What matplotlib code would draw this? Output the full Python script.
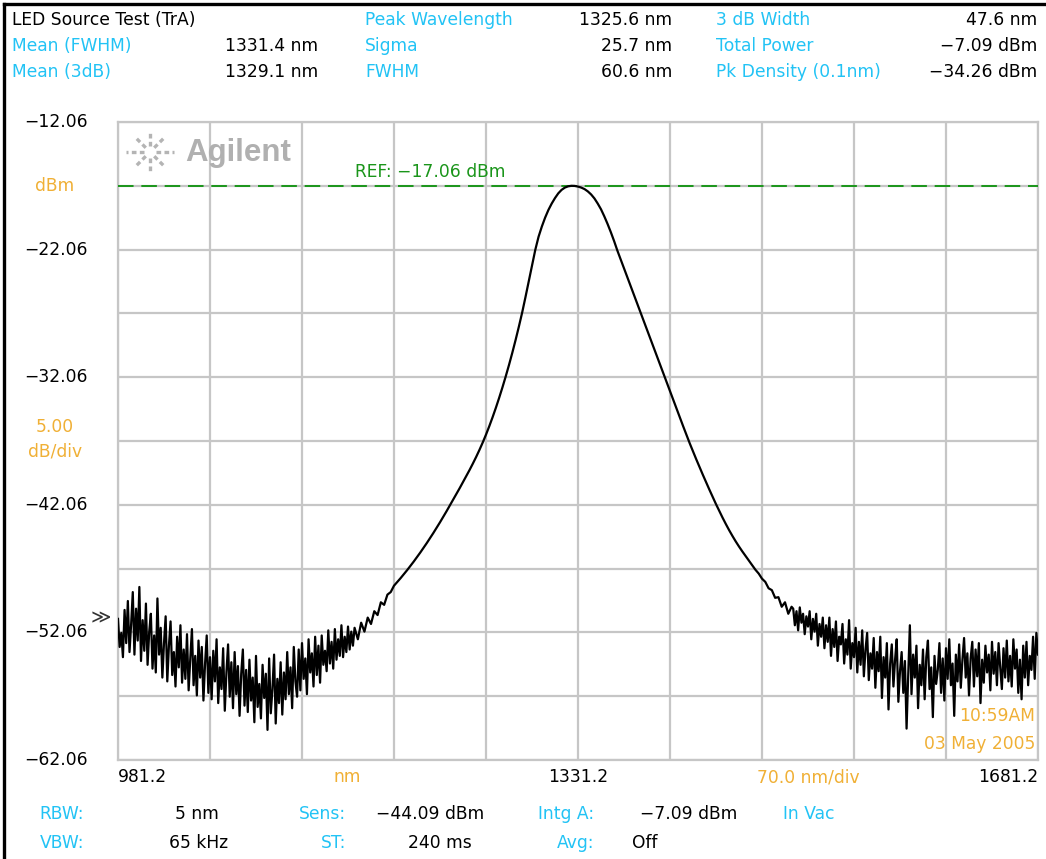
import numpy as np
import matplotlib
matplotlib.use("Agg")
import matplotlib.pyplot as plt
from matplotlib.transforms import blended_transform_factory
from matplotlib.lines import Line2D

W, H = 1046, 859
plt.rcParams['font.family'] = ['DejaVu Sans']
FS = 12.3

CYAN = '#22c3f5'
ORANGE = '#f0b036'
GREEN = '#1a951a'
GRID = '#c6c6c6'

# sweep settings
start_nm, stop_nm = 981.2, 1681.2
ref_dbm = -17.06
top_dbm, bottom_dbm = -12.06, -62.06

# trace
# left noise floor, 1.25 nm per point (981.2 .. 1161.2)
left_floor_dbm = [
    -51.0, -53.2, -52.1, -54.0, -50.3, -52.9, -49.6, -53.6, -51.4, -48.9,
    -53.8, -50.2, -52.7, -48.5, -54.3, -51.1, -53.5, -49.8, -54.6, -52.0,
    -50.6, -54.9, -52.3, -55.2, -49.4, -53.8, -51.7, -55.6, -52.9, -50.8,
    -55.9, -53.1, -51.2, -55.4, -53.6, -56.3, -52.4, -54.8, -51.5, -56.0,
    -53.4, -55.7, -52.2, -56.6, -54.1, -51.8, -56.2, -53.9, -57.0, -52.7,
    -55.6, -53.2, -57.4, -54.5, -52.3, -56.8, -54.0, -57.3, -53.5, -55.9,
    -52.6, -57.6, -54.8, -56.5, -53.3, -58.2, -55.2, -53.0, -57.1, -54.4,
    -58.0, -53.6, -56.9, -54.7, -58.6, -55.3, -53.4, -57.8, -55.0, -58.3,
    -54.2, -57.4, -55.6, -59.1, -53.9, -57.9, -56.1, -58.8, -54.6, -57.2,
    -55.3, -59.7, -54.1, -58.4, -56.5, -53.8, -59.2, -55.7, -57.6, -54.4,
    -58.5, -55.2, -57.3, -53.6, -56.9, -54.8, -58.0, -53.2, -55.9, -57.1,
    -53.4, -56.6, -52.9, -55.7, -54.1, -56.9, -52.6, -55.2, -53.7, -56.3,
    -52.4, -55.4, -53.1, -56.0, -52.3, -54.6, -53.5, -55.1, -51.9, -54.5,
    -52.8, -54.9, -51.8, -54.2, -52.6, -53.9, -51.5, -54.0, -52.4, -53.6,
    -51.6, -53.4, -52.0, -53.1, -51.7,
]
# LED spectrum, 2.5 nm per point (1163.7 .. 1493.7)
spectrum_dbm = [
    -52.6, -51.3, -52.0, -50.9, -51.4, -50.4, -50.7,
    -49.7, -49.9, -49.1, -48.9, -48.40, -48.11, -47.81, -47.50, -47.18, -46.85,
    -46.51, -46.16, -45.80, -45.43, -45.05, -44.66, -44.26, -43.85, -43.43, -43.00,
    -42.56, -42.11, -41.66, -41.21, -40.75, -40.28, -39.81, -39.33, -38.83, -38.31,
    -37.76, -37.18, -36.56, -35.90, -35.20, -34.46, -33.68, -32.86, -32.00, -31.10,
    -30.15, -29.15, -28.10, -27.00, -25.80, -24.55, -23.30, -22.08, -21.05, -20.25,
    -19.55, -18.95, -18.45, -18.02, -17.65, -17.38, -17.20, -17.10, -17.06, -17.07,
    -17.12, -17.20, -17.32, -17.50, -17.74, -18.05, -18.45, -18.90, -19.45, -20.05,
    -20.70, -21.40, -22.15, -22.84, -23.53, -24.21, -24.90, -25.59, -26.27, -26.96,
    -27.65, -28.34, -29.02, -29.71, -30.40, -31.09, -31.77, -32.46, -33.15, -33.84,
    -34.52, -35.21, -35.90, -36.58, -37.24, -37.88, -38.50, -39.11, -39.71, -40.30,
    -40.88, -41.45, -42.01, -42.55, -43.07, -43.57, -44.05, -44.50, -44.93, -45.33,
    -45.71, -46.07, -46.42, -46.78, -47.15, -47.45, -47.85, -48.10, -48.60, -48.75,
    -49.35, -49.30, -50.05, -49.70, -50.60, -50.05,
]
# right noise floor, 1.25 nm per point (1494.95 .. 1681.2)
right_floor_dbm = [
    -50.2, -51.5, -50.4, -51.9, -50.1, -51.3, -50.6, -52.2, -50.8, -51.6,
    -50.4, -52.6, -51.0, -52.0, -50.6, -53.1, -51.4, -52.4, -50.9, -53.3,
    -51.5, -52.8, -50.9, -53.9, -51.8, -53.2, -51.2, -54.3, -52.4, -53.0,
    -51.4, -54.5, -52.6, -53.8, -51.1, -54.9, -52.9, -54.0, -51.7, -55.2,
    -52.8, -54.6, -51.9, -55.5, -53.4, -52.1, -55.8, -53.7, -54.9, -52.5,
    -56.4, -53.6, -55.1, -52.4, -57.2, -54.0, -55.6, -52.9, -58.1, -54.5,
    -53.0, -56.3, -54.2, -52.6, -57.5, -55.1, -53.6, -56.8, -54.3, -59.6,
    -55.4, -51.5, -56.9, -53.8, -55.6, -53.1, -58.0, -54.6, -56.2, -53.4,
    -57.3, -54.0, -52.7, -56.5, -54.8, -58.7, -53.9, -56.1, -55.0, -52.9,
    -56.8, -54.1, -57.4, -53.3, -55.7, -52.6, -56.2, -54.5, -58.6, -53.8,
    -55.9, -53.0, -56.4, -54.2, -52.5, -55.6, -53.7, -57.0, -54.1, -52.8,
    -56.3, -53.4, -55.5, -52.9, -57.6, -54.2, -56.0, -53.1, -55.2, -53.8,
    -56.6, -52.8, -55.3, -53.6, -56.2, -52.9, -54.8, -56.5, -53.3, -55.6,
    -52.7, -55.9, -53.9, -56.3, -52.6, -54.9, -53.4, -56.8, -54.2, -57.3,
    -53.1, -55.6, -52.8, -56.2, -53.9, -55.0, -52.4, -55.7, -52.1, -53.8,
]

wavelength_nm = np.concatenate([
    np.linspace(981.2, 1161.2, len(left_floor_dbm)),
    np.linspace(1163.7, 1493.7, len(spectrum_dbm)),
    np.linspace(1494.95, 1681.2, len(right_floor_dbm)),
])
power_dbm = np.array(left_floor_dbm + spectrum_dbm + right_floor_dbm)

y_tick_values = [-12.06, -22.06, -32.06, -42.06, -52.06, -62.06]
x_tick_values = [981.2, 1331.2, 1681.2]

header_rows = [
    [("LED Source Test (TrA)", 'k'), ("Peak Wavelength", CYAN), ("1325.6 nm", 'k'), ("3 dB Width", CYAN), ("47.6 nm", 'k')],
    [("Mean (FWHM)", CYAN), ("1331.4 nm", 'k'), ("Sigma", CYAN), ("25.7 nm", 'k'), ("Total Power", CYAN), ("\u22127.09 dBm", 'k')],
    [("Mean (3dB)", CYAN), ("1329.1 nm", 'k'), ("FWHM", CYAN), ("60.6 nm", 'k'), ("Pk Density (0.1nm)", CYAN), ("\u221234.26 dBm", 'k')],
]

footer_rows = [
    ["RBW:", "5 nm", "Sens:", "\u221244.09 dBm", "Intg A:", "\u22127.09 dBm", "In Vac"],
    ["VBW:", "65 kHz", "ST:", "240 ms", "Avg:", "Off"],
]


def fx(x):
    return x / W


def fy(y):
    return 1 - y / H


fig = plt.figure(figsize=(W / 100, H / 100), dpi=100)
fig.patch.set_facecolor('white')
ax = fig.add_axes([fx(118), fy(760), (1038 - 118) / W, (760 - 122) / H])

ax.set_xlim(start_nm, stop_nm)
ax.set_ylim(bottom_dbm, top_dbm)
ax.set_xticks(np.arange(start_nm, stop_nm + 1, 70.0))
ax.set_yticks(np.arange(bottom_dbm, top_dbm + 0.5, 5.0))
ax.tick_params(length=0, labelbottom=False, labelleft=False)
ax.grid(True, color=GRID, lw=1.6)
ax.set_axisbelow(True)
for s in ax.spines.values():
    s.set_color(GRID)
    s.set_linewidth(1.6)

ax.axhline(ref_dbm, color=GREEN, lw=1.4, dashes=(8, 4), zorder=3)
ax.plot(wavelength_nm, power_dbm, color='black', lw=1.6, zorder=4)

# Agilent logo
cx, cy = 150, 152
for ang in np.arange(0, 360, 45):
    a = np.deg2rad(ang)
    r0, r1 = 6, 24 if ang % 180 == 0 else 20
    xs = [fx(cx + r0 * np.cos(a)), fx(cx + r1 * np.cos(a))]
    ys = [fy(cy + r0 * np.sin(a)), fy(cy + r1 * np.sin(a))]
    fig.add_artist(Line2D(xs, ys, color='#b4b4b4', lw=2.4, dashes=(1.4, 1.0)))
fig.text(fx(185), fy(153), "Agilent", color='#b0b0b0', fontsize=22.5, fontweight='bold',
         family=['Liberation Sans', 'DejaVu Sans'], ha='left', va='center')

fig.text(fx(355), fy(172), "REF: \u221217.06 dBm", color=GREEN, fontsize=FS, ha='left', va='center')

# y labels
ty = blended_transform_factory(ax.transAxes, ax.transData)
for v in y_tick_values:
    ax.text(-30 / 920, v, f"{v:.2f}".replace('-', '\u2212'), transform=ty, ha='right', va='center',
            fontsize=FS, color='k')
fig.text(fx(55), fy(186), "dBm", color=ORANGE, fontsize=FS, ha='center', va='center')
fig.text(fx(55), fy(427), "5.00", color=ORANGE, fontsize=FS, ha='center', va='center')
fig.text(fx(55), fy(452), "dB/div", color=ORANGE, fontsize=FS, ha='center', va='center')
fig.text(fx(101), fy(618), "\u226b", color='#333333', fontsize=14, ha='center', va='center')

# x labels
tx = blended_transform_factory(ax.transData, ax.transAxes)
aligns = ['left', 'center', 'right']
for v, al in zip(x_tick_values, aligns):
    ax.text(v, -17 / 638, f"{v:.1f}", transform=tx, ha=al, va='center', fontsize=FS)
fig.text(fx(347), fy(777), "nm", color=ORANGE, fontsize=FS, ha='center', va='center')
fig.text(fx(808), fy(777), "70.0 nm/div", color=ORANGE, fontsize=FS, ha='center', va='center')

# timestamp
fig.text(fx(1035), fy(716), "10:59AM", color=ORANGE, fontsize=FS, ha='right', va='center', zorder=10)
fig.text(fx(1035), fy(744), "03 May 2005", color=ORANGE, fontsize=FS, ha='right', va='center', zorder=10)

# header block
header_pos = [
    [(12, 'left'), (365, 'left'), (672, 'right'), (716, 'left'), (1037, 'right')],
    [(12, 'left'), (318, 'right'), (365, 'left'), (672, 'right'), (716, 'left'), (1037, 'right')],
    [(12, 'left'), (318, 'right'), (365, 'left'), (672, 'right'), (716, 'left'), (1037, 'right')],
]
for row, pos, yy in zip(header_rows, header_pos, [20, 46, 72]):
    for (txt, col), (xx, al) in zip(row, pos):
        fig.text(fx(xx), fy(yy), txt, color=col, fontsize=FS, ha=al, va='center')

# footer block
footer_pos = [
    [(62, 'center', CYAN), (197, 'center', 'k'), (346, 'right', CYAN), (430, 'center', 'k'),
     (594, 'right', CYAN), (689, 'center', 'k'), (783, 'left', CYAN)],
    [(62, 'center', CYAN), (199, 'center', 'k'), (346, 'right', CYAN), (440, 'center', 'k'),
     (594, 'right', CYAN), (632, 'left', 'k')],
]
for row, pos, yy in zip(footer_rows, footer_pos, [814, 843]):
    for txt, (xx, al, col) in zip(row, pos):
        fig.text(fx(xx), fy(yy), txt, color=col, fontsize=FS, ha=al, va='center')

# screen frame
fig.add_artist(Line2D([fx(4), fx(4)], [0, fy(4)], color='black', lw=2.4))
fig.add_artist(Line2D([fx(4), 1], [fy(4), fy(4)], color='black', lw=2.4))

fig.savefig("out.png", dpi=100, facecolor='white')
